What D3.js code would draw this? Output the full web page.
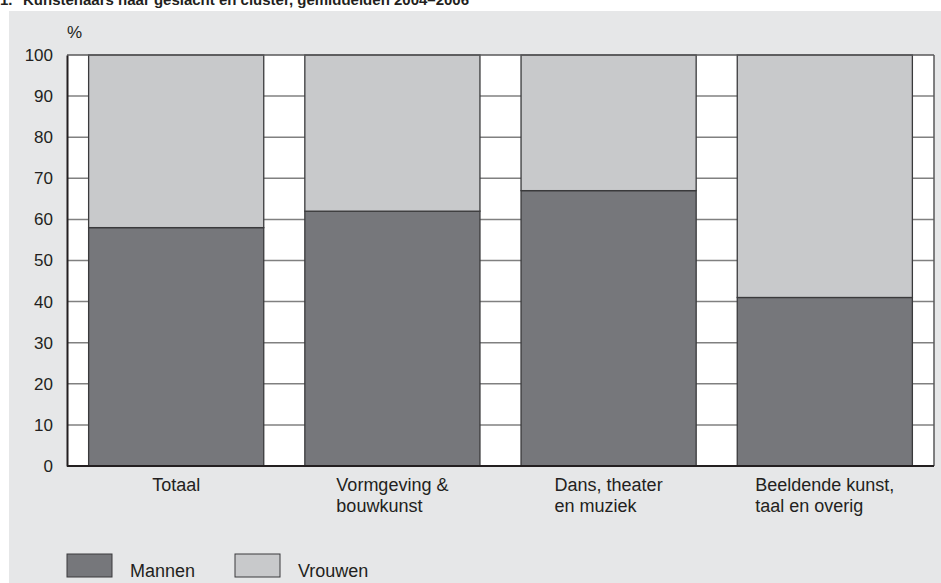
<!DOCTYPE html>
<html>
<head>
<meta charset="utf-8">
<script src="https://cdn.jsdelivr.net/npm/d3@7"></script>
<style>
  body { margin: 0; background: #fff; }
  text { font-family: "Liberation Sans", Arial, sans-serif; fill: #231f20; }
</style>
</head>
<body>
<div id="chart"></div>
<script>
// data
var categories = [["Totaal"], ["Vormgeving &", "bouwkunst"], ["Dans, theater", "en muziek"], ["Beeldende kunst,", "taal en overig"]];
var mannen = [58, 62, 67, 41];
var vrouwen = [42, 38, 33, 59];
var yTicks = [0, 10, 20, 30, 40, 50, 60, 70, 80, 90, 100];
var seriesNames = ["Mannen", "Vrouwen"];
var seriesColors = ["#76777b", "#c8c9cb"];

var svgWidth = 941, svgHeight = 583;
var margin = { top: 55, right: 7, bottom: 117, left: 67 };
var width = svgWidth - margin.left - margin.right;
var height = svgHeight - margin.top - margin.bottom;

var svg = d3.select("#chart").append("svg")
  .attr("width", svgWidth)
  .attr("height", svgHeight);

// grey panel
svg.append("rect")
  .attr("x", 9).attr("y", 11)
  .attr("width", svgWidth - 9).attr("height", svgHeight - 11)
  .attr("fill", "#e6e7e8");

// title (partly above the top edge, as in the source)
var title = svg.append("text")
  .attr("y", 5)
  .attr("font-size", "15px")
  .attr("font-weight", "bold");
title.append("tspan").attr("x", 0).text("1.");
title.append("tspan").attr("x", 23).text("Kunstenaars naar geslacht en cluster, gemiddelden 2004–2006");

var chartGroup = svg.append("g")
  .attr("transform", `translate(${margin.left}, ${margin.top})`);

var xScale = d3.scaleBand()
  .domain(d3.range(categories.length))
  .range([0, width])
  .paddingInner(0.19)
  .paddingOuter(0.1);

var yScale = d3.scaleLinear()
  .domain([0, 100])
  .range([height, 0]);

// plot background
chartGroup.append("rect")
  .attr("width", width).attr("height", height)
  .attr("fill", "#fff");

// gridlines
chartGroup.append("g")
  .selectAll("line").data(yTicks.filter(d => d > 0 && d < 100)).enter()
  .append("line")
  .attr("x1", 0).attr("x2", width)
  .attr("y1", d => yScale(d)).attr("y2", d => yScale(d))
  .attr("stroke", "#808080")
  .attr("stroke-width", 1.5);

// stacked bars
var stack = d3.stack().keys([0, 1])
  (categories.map((c, i) => ({ 0: mannen[i], 1: vrouwen[i] })));

stack.forEach(function(layer, k) {
  chartGroup.append("g")
    .selectAll("rect").data(layer).enter()
    .append("rect")
    .attr("x", (d, i) => xScale(i))
    .attr("y", d => yScale(d[1]))
    .attr("width", xScale.bandwidth())
    .attr("height", d => yScale(d[0]) - yScale(d[1]))
    .attr("fill", seriesColors[k])
    .attr("stroke", "#3a3a3c")
    .attr("stroke-width", 1.3);
});

// frame
chartGroup.append("line").attr("x1", 0).attr("x2", width).attr("y1", 0).attr("y2", 0)
  .attr("stroke", "#58585a").attr("stroke-width", 1.5);
chartGroup.append("line").attr("x1", width).attr("x2", width).attr("y1", 0).attr("y2", height)
  .attr("stroke", "#58585a").attr("stroke-width", 1.5);

// axes
var leftAxis = d3.axisLeft(yScale).tickValues(yTicks).tickSize(0).tickPadding(14);
var yAxisG = chartGroup.append("g").call(leftAxis);
yAxisG.select(".domain").attr("stroke", "#231f20").attr("stroke-width", 2);
yAxisG.selectAll("text")
  .attr("font-size", "17px")
  .attr("font-family", "Liberation Sans, Arial, sans-serif")
  .attr("fill", "#231f20");

chartGroup.append("line")
  .attr("x1", 0).attr("x2", width)
  .attr("y1", height).attr("y2", height)
  .attr("stroke", "#231f20").attr("stroke-width", 2);

// unit label
chartGroup.append("text")
  .attr("x", 0).attr("y", -17)
  .attr("font-size", "17px")
  .text("%");

// category labels
categories.forEach(function(lines, i) {
  var t = chartGroup.append("text")
    .attr("font-size", "18px")
    .attr("y", height + 25);
  lines.forEach(function(l, j) {
    t.append("tspan").attr("dy", j === 0 ? 0 : 21).text(l);
  });
  var w = d3.max(t.selectAll("tspan").nodes(), n => n.getComputedTextLength());
  var x0 = xScale(i) + xScale.bandwidth() / 2 - w / 2;
  t.selectAll("tspan").attr("x", x0);
});

// legend
var legend = svg.append("g").attr("transform", "translate(67, 554)");
seriesNames.forEach(function(name, i) {
  var g = legend.append("g").attr("transform", `translate(${i * 168}, 0)`);
  g.append("rect")
    .attr("width", 45).attr("height", 23)
    .attr("fill", seriesColors[i])
    .attr("stroke", "#3a3a3c").attr("stroke-width", 1);
  g.append("text")
    .attr("x", 63).attr("y", 23)
    .attr("font-size", "18px")
    .text(name);
});
</script>
</body>
</html>
